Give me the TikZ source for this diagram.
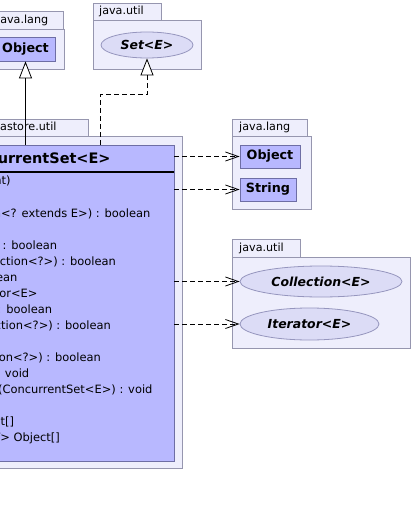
\documentclass[tikz,border=0pt]{standalone}
\usepackage{fontspec}
\setmainfont{DejaVu Sans}
\usetikzlibrary{arrows.meta,shapes.geometric}

\definecolor{pkgfill}{RGB}{238,238,252}
\definecolor{pkgline}{RGB}{150,150,175}
\definecolor{clsfill}{RGB}{184,184,255}
\definecolor{clsline}{RGB}{110,110,165}
\definecolor{iffill}{RGB}{220,220,246}
\definecolor{ifline}{RGB}{150,150,190}

\tikzset{
  pkg/.style={draw=pkgline,fill=pkgfill,line width=0.8bp},
  pkgname/.style={anchor=base west,inner sep=0,font=\fontsize{11.2}{13}\selectfont},
  clsbox/.style={draw=clsline,fill=clsfill,line width=0.8bp,inner sep=0},
  refbox/.style={clsbox,font=\fontsize{12.8}{15}\selectfont\bfseries},
  ifbox/.style={ellipse,draw=ifline,fill=iffill,line width=0.8bp,inner sep=0,
    font=\fontsize{12.5}{15}\selectfont\bfseries\itshape},
  member/.style={anchor=base west,inner sep=0,font=\fontsize{11.5}{16}\selectfont},
  uses/.style={dash pattern=on 5bp off 3bp,line width=0.8bp,
    -{Straight Barb[length=13bp,width=9bp]}},
  extends/.style={line width=0.8bp,-{Triangle[open,length=17bp,width=13bp,fill=white]}},
}

\begin{document}
\begin{tikzpicture}[x=1bp,y=-1bp]
\useasboundingbox (0,0) rectangle (413,507);
\clip (0,0) rectangle (413,507);

% packages
\draw[pkg] (-9,11) rectangle (63,29);
\draw[pkg] (-9,29) rectangle (64,69);
\node[pkgname] at (-3,24) {java.lang};

\draw[pkg] (93,3) rectangle (161,20);
\draw[pkg] (93,20) rectangle (201,69);
\node[pkgname] at (99,15) {java.util};

\draw[pkg] (-113,119) rectangle (88,136);
\draw[pkg] (-113,136) rectangle (182,468);
\node[pkgname] at (-87,131) {com.google.datastore.util};

\draw[pkg] (232,119) rectangle (307,136);
\draw[pkg] (232,136) rectangle (311,209);
\node[pkgname] at (239,131) {java.lang};

\draw[pkg] (232,239) rectangle (300,257);
\draw[pkg] (232,257) rectangle (410,348);
\node[pkgname] at (239,251) {java.util};

% classes
\node[refbox,minimum width=59bp,minimum height=24bp] (obj) at (25.5,49) {Object};
\node[ifbox,minimum width=92bp,minimum height=26bp] (set) at (147,45) {Set<E>};
\node[refbox,minimum width=60bp,minimum height=23bp] (jlobj) at (270,156.5) {Object};
\node[refbox,minimum width=56bp,minimum height=23bp] (jlstr) at (268,189.5) {String};
\node[ifbox,minimum width=162bp,minimum height=31bp] (coll) at (321,281.5) {Collection<E>};
\node[ifbox,minimum width=139bp,minimum height=32bp] (iter) at (309.5,324) {Iterator<E>};

\node[clsbox,minimum width=279bp,minimum height=316bp] (cls) at (34.5,303) {};
\node[font=\fontsize{14.5}{17}\selectfont\bfseries] (clsname) at (34.5,158.5) {ConcurrentSet<E>};
\draw[line width=1.6bp] (cls.west |- 0,172) -- (cls.east |- 0,172);

\foreach \m [count=\i] in {ConcurrentSet(int), add(E) : boolean,
    addAll(Collection<? extends E>) : boolean, clear() : void,
    contains(Object) : boolean, containsAll(Collection<?>) : boolean,
    isEmpty() : boolean, iterator() : Iterator<E>, remove(Object) : boolean,
    removeAll(Collection<?>) : boolean, lock() : void,
    retainAll(Collection<?>) : boolean, setImmutable() : void,
    replaceContents(ConcurrentSet<E>) : void, size() : int,
    toArray() : Object[], toArray(T[]) : <T> Object[]}
  \node[member] at (-96,{185+16*(\i-1)}) {\m};

% relations
\draw[extends] (obj.south |- cls.north) -- (obj.south);
\draw[extends,dash pattern=on 5bp off 3bp] ([xshift=65.5bp]cls.north) -- ++(0,-50) -| (set.south);
\draw[uses] (cls.east |- jlobj.west) -- (jlobj.west);
\draw[uses] (cls.east |- jlstr.west) -- (jlstr.west);
\draw[uses] (cls.east |- coll.west) -- (coll.west);
\draw[uses] (cls.east |- iter.west) -- (iter.west);
\end{tikzpicture}
\end{document}
